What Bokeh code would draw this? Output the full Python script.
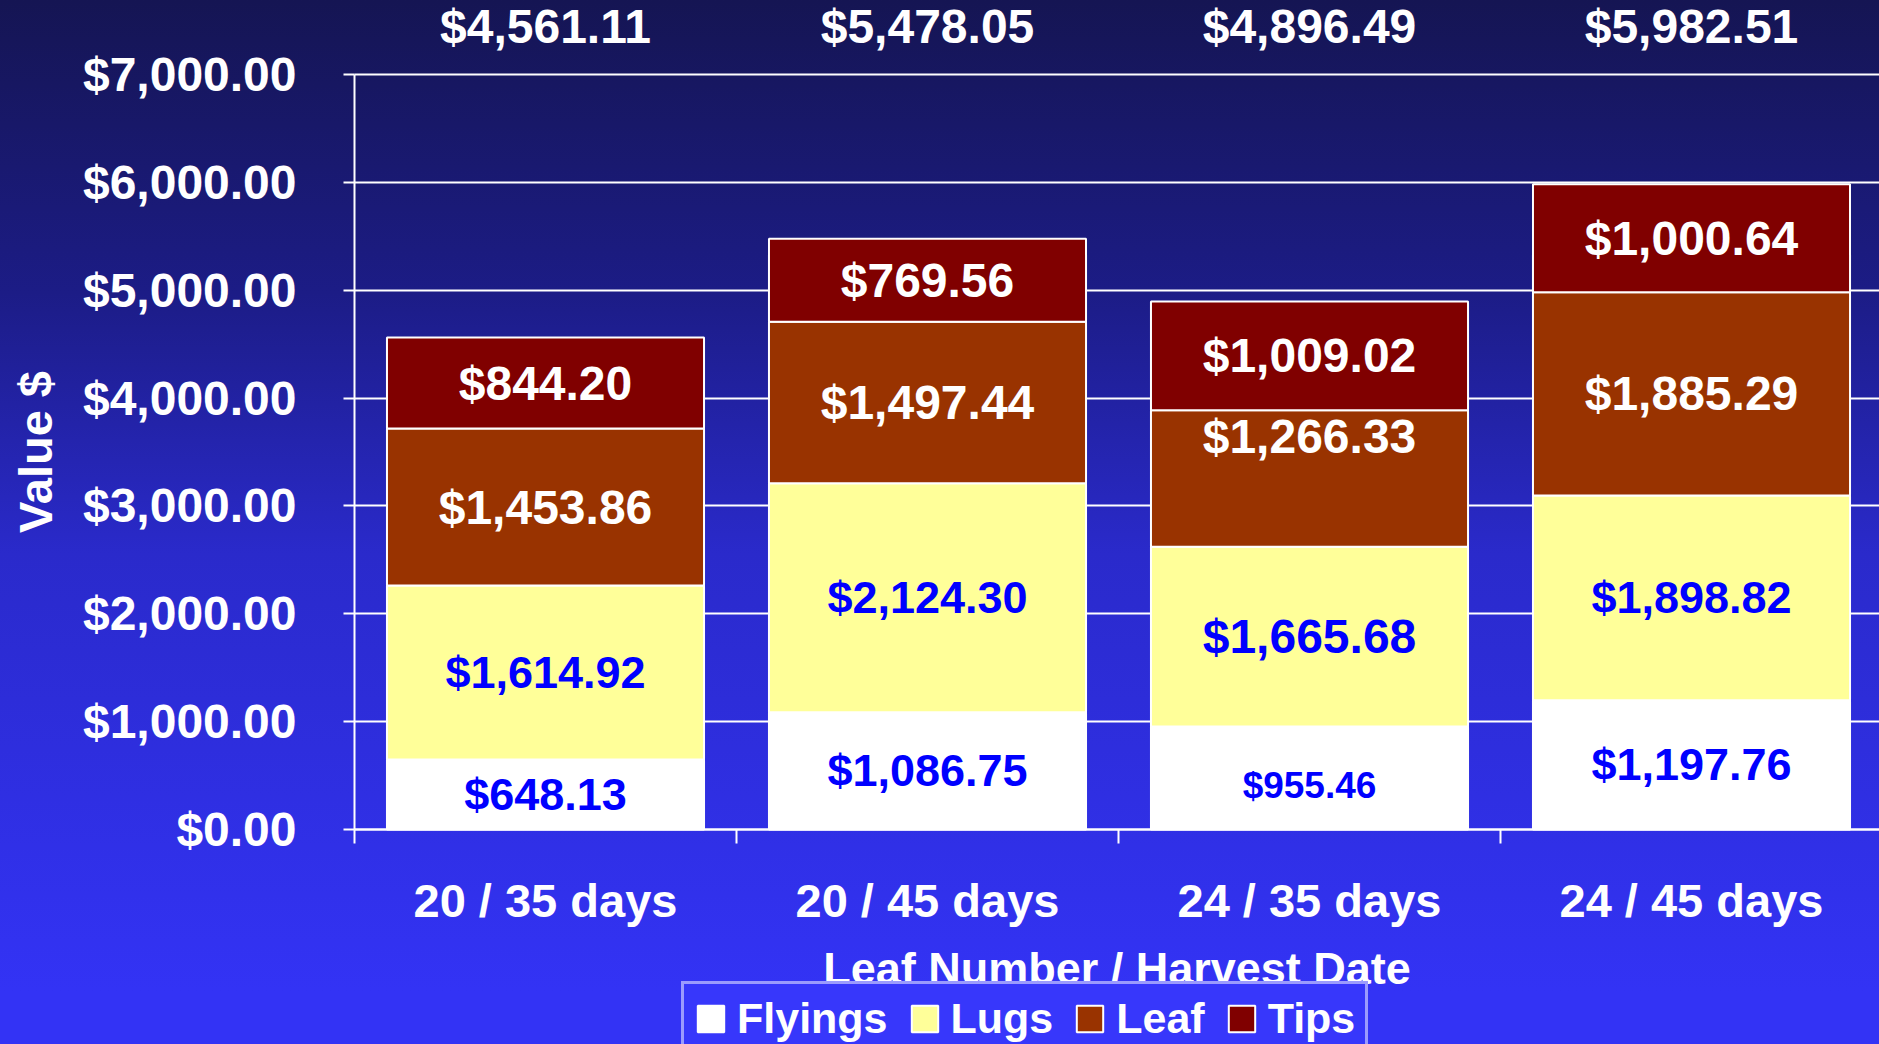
from bokeh.plotting import figure
from bokeh.models import (ColumnDataSource, NumeralTickFormatter, FixedTicker, Range1d,
                          Legend, LegendItem)
from bokeh.core.properties import value
from bokeh.embed import file_html
from bokeh.resources import INLINE

# ---------------- data ----------------
categories = ["20 / 35 days", "20 / 45 days", "24 / 35 days", "24 / 45 days"]
series = ["Flyings", "Lugs", "Leaf", "Tips"]
flyings = [648.13, 1086.75, 955.46, 1197.76]
lugs = [1614.92, 2124.30, 1665.68, 1898.82]
leaf = [1453.86, 1497.44, 1266.33, 1885.29]
tips = [844.20, 769.56, 1009.02, 1000.64]
y_ticks = [0, 1000, 2000, 3000, 4000, 5000, 6000, 7000]
y_max = 7000

# ---------------- layout (pixels) ----------------
W, H = 1879, 1044
AX_X = 354          # pixel x of the value axis
AX_Y0 = 829         # pixel y of value 0
AX_YTOP = 74        # pixel y of y_max
CAT_W = 382         # pixel width of one category
ppu_y = (AX_Y0 - AX_YTOP) / y_max
y_lo = -(H - AX_Y0) / ppu_y
y_hi = y_max + AX_YTOP / ppu_y
x_lo = -AX_X / CAT_W
x_hi = (W - AX_X) / CAT_W

# ---------------- style ----------------
FONT = "Liberation Sans"
colors = ["#ffffff", "#ffff99", "#993300", "#800000"]
label_colors = ["#0000ff", "#0000ff", "#ffffff", "#ffffff"]
label_sizes = [["45px", "45px", "37px", "45px"],
               ["45px", "45px", "48px", "45px"],
               ["48px", "48px", "48px", "48px"],
               ["48px", "48px", "48px", "48px"]]
label_dy = [[0, 0, 8, 0],
            [0, 0, 0, 0],
            [0, 0, -42, 0],
            [0, 0, 0, 0]]

values = [flyings, lugs, leaf, tips]
xs = [i + 0.5 for i in range(len(categories))]

src = ColumnDataSource(dict(x=xs, **{s: v for s, v in zip(series, values)}))

p = figure(width=W, height=H,
           x_range=Range1d(x_lo, x_hi), y_range=Range1d(y_lo, y_hi),
           output_backend="svg", toolbar_location=None,
           min_border=0, min_border_left=0, min_border_right=0,
           min_border_top=0, min_border_bottom=0)
p.styles = {"background": "linear-gradient(to bottom, #151553 0%, #1c1c86 28%, #2a2acb 53%, #3333f5 95%)"}
p.background_fill_alpha = 0
p.border_fill_alpha = 0
p.outline_line_color = None

renderers = p.vbar_stack(series, x="x", width=0.83, source=src,
                         fill_color=colors, line_color="white", line_width=2)

# grid
p.xgrid.visible = False
p.ygrid.ticker = FixedTicker(ticks=y_ticks)
p.ygrid.bounds = (0, y_max)
p.ygrid.cross_bounds = (0, x_hi)
p.ygrid.grid_line_color = "white"
p.ygrid.grid_line_width = 2

# y axis
p.yaxis.fixed_location = 0
p.yaxis.bounds = (0, y_max)
p.yaxis.ticker = FixedTicker(ticks=y_ticks)
p.yaxis.formatter = NumeralTickFormatter(format="$0,0.00")
p.yaxis.axis_line_color = "white"
p.yaxis.axis_line_width = 2
p.yaxis.major_tick_line_color = "white"
p.yaxis.major_tick_line_width = 2
p.yaxis.major_tick_out = 11
p.yaxis.major_tick_in = 0
p.yaxis.minor_tick_line_color = None
p.yaxis.major_label_standoff = 47
p.yaxis.major_label_text_color = "white"
p.yaxis.major_label_text_font = FONT
p.yaxis.major_label_text_font_style = "bold"
p.yaxis.major_label_text_font_size = "48px"
p.yaxis.axis_label = "Value $"
p.yaxis.axis_label_text_color = "white"
p.yaxis.axis_label_text_font = FONT
p.yaxis.axis_label_text_font_style = "bold"
p.yaxis.axis_label_text_font_size = "47px"
p.yaxis.axis_label_standoff = 18

# x axis
p.xaxis.fixed_location = 0
p.xaxis.bounds = (0, x_hi)
p.xaxis.ticker = FixedTicker(ticks=xs, minor_ticks=list(range(len(categories) + 1)))
p.xaxis.major_label_overrides = {x: c for x, c in zip(xs, categories)}
p.xaxis.axis_line_color = "white"
p.xaxis.axis_line_width = 2
p.xaxis.major_tick_line_color = None
p.xaxis.major_tick_out = 0
p.xaxis.major_tick_in = 0
p.xaxis.minor_tick_line_color = "white"
p.xaxis.minor_tick_line_width = 2
p.xaxis.minor_tick_out = 14
p.xaxis.minor_tick_in = 0
p.xaxis.major_label_standoff = 30
p.xaxis.major_label_text_color = "white"
p.xaxis.major_label_text_font = FONT
p.xaxis.major_label_text_font_style = "bold"
p.xaxis.major_label_text_font_size = "47px"
p.xaxis.axis_label = "Leaf Number / Harvest Date"
p.xaxis.axis_label_text_color = "white"
p.xaxis.axis_label_text_font = FONT
p.xaxis.axis_label_text_font_style = "bold"
p.xaxis.axis_label_text_font_size = "45px"
p.xaxis.axis_label_standoff = 13

# segment labels
lx, ly, lt, lc, ls, ld = [], [], [], [], [], []
bottoms = [0.0] * len(categories)
for si, vals in enumerate(values):
    for ci, v in enumerate(vals):
        lx.append(xs[ci])
        ly.append(bottoms[ci] + v / 2)
        lt.append("${:,.2f}".format(v))
        lc.append(label_colors[si])
        ls.append(label_sizes[si][ci])
        ld.append(label_dy[si][ci])
        bottoms[ci] += v
lab_src = ColumnDataSource(dict(x=lx, y=ly, text=lt, color=lc, size=ls, dy=ld))
p.text(x="x", y="y", text="text", source=lab_src, text_color="color",
       text_font_size="size", text_font=value(FONT), text_font_style="bold",
       text_align="center", text_baseline="middle", y_offset="dy")

# totals above bars
tot_src = ColumnDataSource(dict(x=xs, y=[y_max] * len(xs),
                                text=["${:,.2f}".format(t) for t in bottoms]))
p.text(x="x", y="y", text="text", source=tot_src, y_offset=-48,
       text_align="center", text_baseline="middle",
       text_color="white", text_font=value(FONT),
       text_font_style="bold", text_font_size="48px")

# legend
legend = Legend(items=[LegendItem(label=s, renderers=[r]) for s, r in zip(series, renderers)],
                orientation="horizontal", location=(681, -12),
                label_text_color="white", label_text_font=FONT,
                label_text_font_style="bold", label_text_font_size="43px",
                glyph_width=33, glyph_height=33, label_standoff=10, spacing=20,
                padding=10, margin=0,
                border_line_color="white", border_line_width=3,
                background_fill_color="#3737fb", background_fill_alpha=1)
p.add_layout(legend)

open("out.html", "w").write(file_html(p, INLINE))
